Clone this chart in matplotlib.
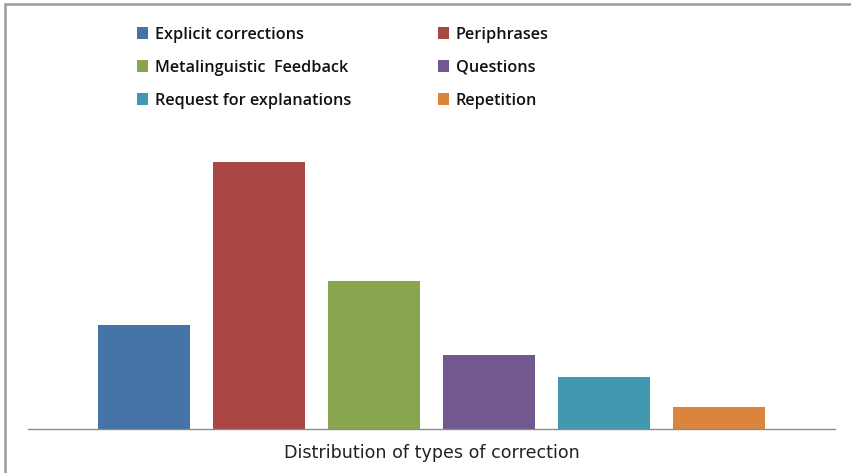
import matplotlib
matplotlib.use("Agg")
import matplotlib.pyplot as plt
from matplotlib.patches import Rectangle

categories = ["Explicit corrections", "Periphrases", "Metalinguistic  Feedback",
              "Questions", "Request for explanations", "Repetition"]
values = [14, 36, 20, 10, 7, 3]
colors = ["#4572A7", "#AA4643", "#89A54E", "#71588F", "#4198AF", "#DB843D"]
xlabel = "Distribution of types of correction"

W, H = 851, 473
fig = plt.figure(figsize=(W / 100, H / 100), dpi=100)
fig.patch.set_facecolor("white")

# axes: x 28..835 px, baseline 429 px, top 132 px (value 40)
ax = fig.add_axes([28 / W, 1 - 429 / H, (835 - 28) / W, (429 - 132) / H])
bars = []
for i, (c, v, col) in enumerate(zip(categories, values, colors)):
    b = ax.bar(i, v, width=0.8, color=col, label=c, zorder=2)
    bars.append(b)

ax.set_xlim(2.5 - 3.509, 2.5 + 3.509)
ax.set_ylim(0, 40)
for s in ["top", "right", "left"]:
    ax.spines[s].set_visible(False)
ax.spines["bottom"].set_color("#8c8c8c")
ax.spines["bottom"].set_linewidth(1.0)
ax.set_xticks([])
ax.set_yticks([])
ax.patch.set_alpha(0)

fig.text(431.5 / W, 1 - 453 / H, xlabel, ha="center", va="center",
         fontsize=12.6, family="DejaVu Sans", color="#222222")

order = [0, 2, 4, 1, 3, 5]
leg = fig.legend([bars[i] for i in order], [categories[i] for i in order],
                 ncol=2, loc="upper left", bbox_to_anchor=(122 / W, 1 - 12 / H),
                 frameon=False, handlelength=0.72, handleheight=0.72,
                 handletextpad=0.4, labelspacing=1.05, columnspacing=5.33,
                 prop={"family": "Open Sans", "weight": "semibold", "size": 11.7})
for t in leg.get_texts():
    t.set_color("#111111")

# outer chart border (left and top visible)
fig.add_artist(Rectangle((5 / W, -0.1), 1.2, 1 - 4 / H + 0.1, transform=fig.transFigure,
                         fill=False, edgecolor="#9a9a9a", linewidth=1.8, clip_on=False))

fig.savefig("out.png", dpi=100)
